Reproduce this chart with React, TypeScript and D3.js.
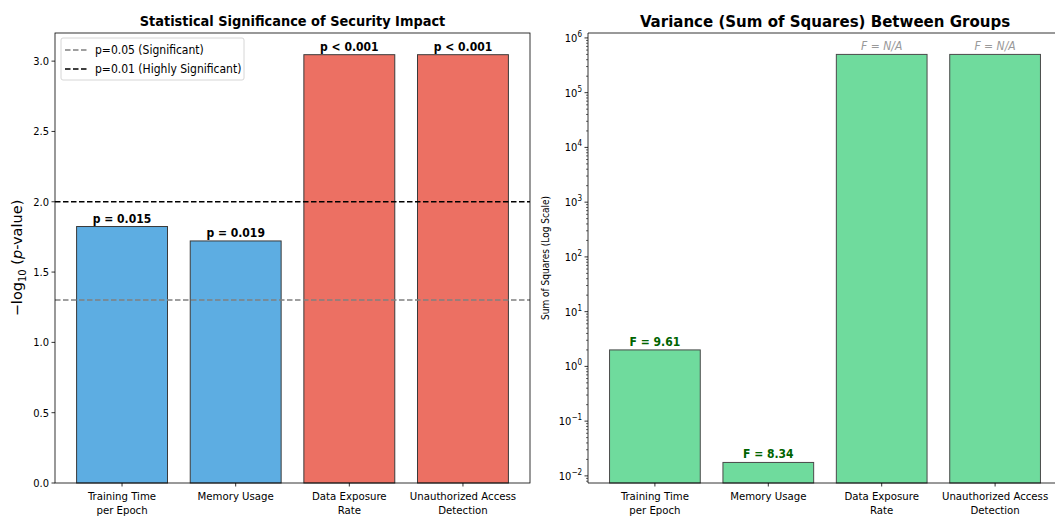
import React from "react";
import * as d3 from "d3";

const categories = [["Training Time", "per Epoch"], ["Memory Usage"], ["Data Exposure", "Rate"], ["Unauthorized Access", "Detection"]];
const categoryKeys = ["Training Time per Epoch", "Memory Usage", "Data Exposure Rate", "Unauthorized Access Detection"];
const pValues = [0.015, 0.019, 0.0009, 0.0009];
const pLabels = ["p = 0.015", "p = 0.019", "p < 0.001", "p < 0.001"];
const sumSquares = [2.0, 0.0176, 500000, 500000];
const fLabels = ["F = 9.61", "F = 8.34", "F = N/A", "F = N/A"];
const leftTicks = [0, 0.5, 1.0, 1.5, 2.0, 2.5, 3.0];
const logTicks = [-2, -1, 0, 1, 2, 3, 4, 5, 6];

const FONT = "'DejaVu Sans', sans-serif";
const BLUE = "#5DADE2";
const RED = "#EC7063";
const GREEN = "#6FDB9D";
const EDGE = "#3a3a3a";
const C = { fontStretch: "condensed" as const };

export default function App() {
  const W = 1055, H = 517;
  const L = { x0: 55, x1: 530, y0: 33, y1: 483 };
  const xL = d3.scaleLinear().domain([-0.59, 3.59]).range([L.x0, L.x1]);
  const yL = d3.scaleLinear().domain([0, 3.2]).range([L.y1, L.y0]);
  const R = { x0: 588, x1: 1062, y0: 33, y1: 483 };
  const xR = d3.scaleLinear().domain([-0.59, 3.59]).range([R.x0, R.x1]);
  const yR = d3.scaleLog().domain([Math.pow(10, -2.13), Math.pow(10, 6.09)]).range([R.y1, R.y0]);
  const bw = 0.8;
  const nl = pValues.map((p) => -Math.log10(p));

  const minor: number[] = [];
  for (let e = -3; e <= 6; e++) for (let m = 2; m <= 9; m++) {
    const v = m * Math.pow(10, e);
    if (v >= yR.domain()[0] && v <= yR.domain()[1]) minor.push(v);
  }

  return (
    <svg width={W} height={H} style={{ position: "absolute", left: 0, top: 0, background: "#fff" }} fontFamily={FONT}>
      <rect x={0} y={0} width={W} height={H} fill="#fff" />
      {/* LEFT */}
      <text x={(L.x0 + L.x1) / 2} y={26} textAnchor="middle" fontSize={14.4} fontWeight="bold" style={C}>Statistical Significance of Security Impact</text>
      {pValues.map((p, i) => (
        <rect key={i} x={xL(i - bw / 2)} y={yL(nl[i])} width={xL(bw) - xL(0)} height={yL(0) - yL(nl[i])} fill={i < 2 ? BLUE : RED} stroke={EDGE} strokeWidth={1} />
      ))}
      <line x1={L.x0} x2={L.x1} y1={yL(-Math.log10(0.05))} y2={yL(-Math.log10(0.05))} stroke="#808080" strokeWidth={1.5} strokeDasharray="5.5,2.5" />
      <line x1={L.x0} x2={L.x1} y1={yL(2)} y2={yL(2)} stroke="#000" strokeWidth={1.5} strokeDasharray="5.5,2.5" />
      {pLabels.map((t, i) => (
        <text key={i} x={xL(i)} y={yL(nl[i]) - 4} textAnchor="middle" fontSize={12} fontWeight="bold" style={C}>{t}</text>
      ))}
      <rect x={L.x0} y={L.y0} width={L.x1 - L.x0} height={L.y1 - L.y0} fill="none" stroke="#000" strokeWidth={0.8} />
      {leftTicks.map((t) => (
        <g key={t}>
          <line x1={L.x0 - 3.5} x2={L.x0} y1={yL(t)} y2={yL(t)} stroke="#000" strokeWidth={0.8} />
          <text x={L.x0 - 6} y={yL(t) + 4} textAnchor="end" fontSize={11} style={C}>{t.toFixed(1)}</text>
        </g>
      ))}
      {categories.map((c, i) => (
        <g key={i}>
          <line x1={xL(i)} x2={xL(i)} y1={L.y1} y2={L.y1 + 3.5} stroke="#000" strokeWidth={0.8} />
          {c.map((line, j) => (
            <text key={j} x={xL(i)} y={L.y1 + 17 + j * 14} textAnchor="middle" fontSize={11.3} style={C}>{line}</text>
          ))}
        </g>
      ))}
      <text transform={`translate(22,${(L.y0 + L.y1) / 2}) rotate(-90)`} textAnchor="middle" fontSize={14.5}>
        −log<tspan fontSize={10} dy={4}>10</tspan><tspan dy={-4}> (</tspan><tspan fontStyle="italic">p</tspan>-value)
      </text>
      {/* legend */}
      <rect x={61} y={38} width={183} height={42} rx={2} fill="#fff" fillOpacity={0.8} stroke="#d6d6d6" strokeWidth={1} />
      <line x1={65} x2={87} y1={50} y2={50} stroke="#808080" strokeWidth={1.5} strokeDasharray="5.5,2.5" />
      <text x={95} y={54} fontSize={12} style={C}>p=0.05 (Significant)</text>
      <line x1={65} x2={87} y1={69} y2={69} stroke="#000" strokeWidth={1.5} strokeDasharray="5.5,2.5" />
      <text x={95} y={73} fontSize={12} style={C}>p=0.01 (Highly Significant)</text>

      {/* RIGHT */}
      <text x={(R.x0 + R.x1) / 2} y={27} textAnchor="middle" fontSize={16.7} fontWeight="bold" style={C}>Variance (Sum of Squares) Between Groups</text>
      {sumSquares.map((v, i) => (
        <rect key={i} x={xR(i - bw / 2)} y={yR(v)} width={xR(bw) - xR(0)} height={R.y1 - yR(v)} fill={GREEN} stroke="#4a4a4a" strokeWidth={1} />
      ))}
      {fLabels.map((t, i) => {
        const na = t.includes("N/A");
        return (
          <text key={i} x={xR(i)} y={yR(sumSquares[i]) - 4} textAnchor="middle" fontSize={12}
            fontWeight={na ? "normal" : "bold"} fontStyle={na ? "italic" : "normal"} fill={na ? "#999" : "#006400"} style={C}>{t}</text>
        );
      })}
      <line x1={R.x0} x2={R.x0} y1={R.y0} y2={R.y1} stroke="#000" strokeWidth={0.8} />
      <line x1={R.x0} x2={R.x1} y1={R.y1} y2={R.y1} stroke="#000" strokeWidth={0.8} />
      <line x1={R.x0} x2={R.x1} y1={R.y0} y2={R.y0} stroke="#000" strokeWidth={0.8} />
      {minor.map((v, i) => (
        <line key={i} x1={R.x0 - 2} x2={R.x0} y1={yR(v)} y2={yR(v)} stroke="#000" strokeWidth={0.6} />
      ))}
      {logTicks.map((e) => (
        <g key={e}>
          <line x1={R.x0 - 3.5} x2={R.x0} y1={yR(Math.pow(10, e))} y2={yR(Math.pow(10, e))} stroke="#000" strokeWidth={0.8} />
          <text x={R.x0 - 6} y={yR(Math.pow(10, e)) + 4} textAnchor="end" fontSize={11} style={C}>
            10<tspan fontSize={8} dy={-5}>{e < 0 ? "−" + Math.abs(e) : String(e)}</tspan>
          </text>
        </g>
      ))}
      {categories.map((c, i) => (
        <g key={i}>
          <line x1={xR(i)} x2={xR(i)} y1={R.y1} y2={R.y1 + 3.5} stroke="#000" strokeWidth={0.8} />
          {c.map((line, j) => (
            <text key={j} x={xR(i)} y={R.y1 + 17 + j * 14} textAnchor="middle" fontSize={11.3} style={C}>{line}</text>
          ))}
        </g>
      ))}
      <text transform={`translate(549,${(R.y0 + R.y1) / 2}) rotate(-90)`} textAnchor="middle" fontSize={10} style={C}>Sum of Squares (Log Scale)</text>
      <title>{categoryKeys.join(", ")}</title>
    </svg>
  );
}
